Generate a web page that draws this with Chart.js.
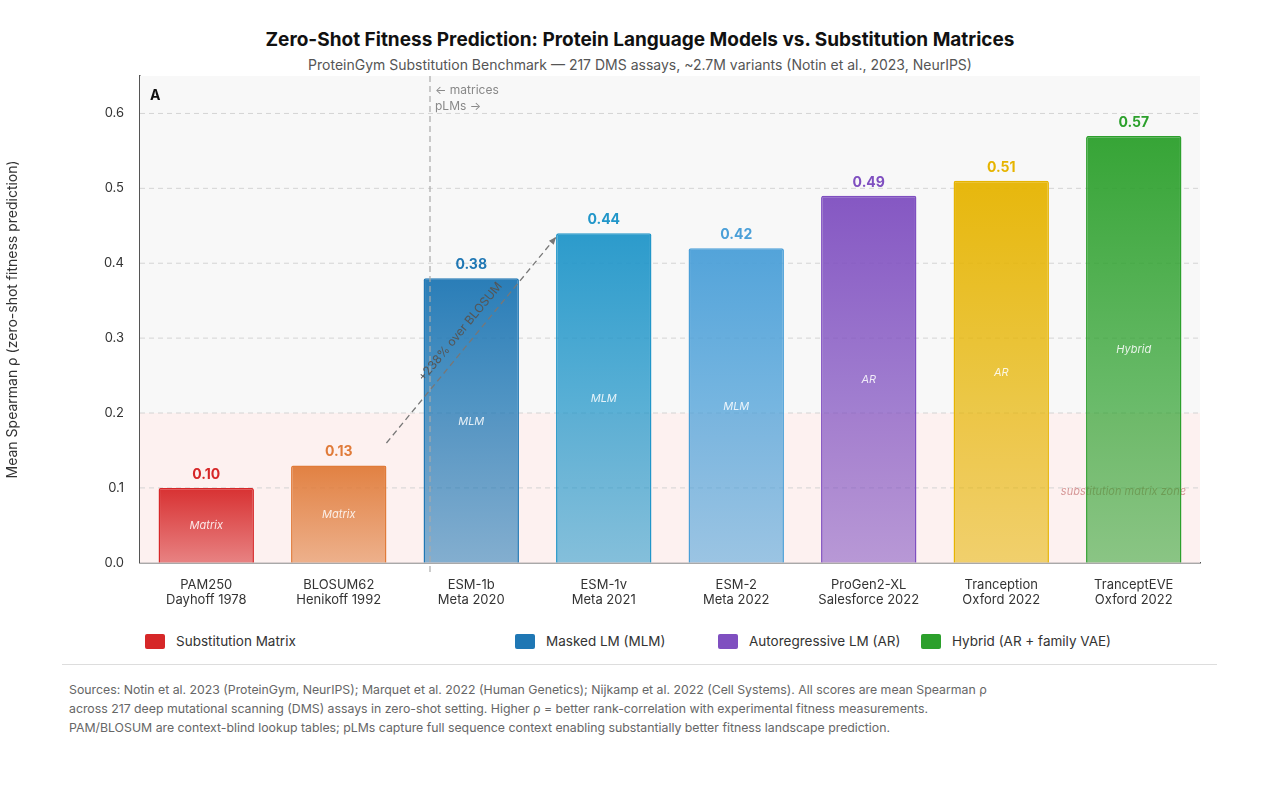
<!DOCTYPE html>
<html><head><meta charset="utf-8">
<script src="https://cdn.jsdelivr.net/npm/chart.js@4.4.1/dist/chart.umd.min.js"></script>
<style>
body{margin:0;background:#fff;font-family:Inter,"Noto Sans",sans-serif;width:1280px;height:811px;overflow:hidden;position:relative}
h1{position:absolute;top:28px;left:0;width:1280px;text-align:center;margin:0;font-size:19px;font-weight:700;color:#111}
.sub{position:absolute;top:56px;left:0;width:1280px;text-align:center;font-size:14px;color:#555}
#wrap{position:absolute;left:0;top:0;width:1280px;height:620px}
.legend{position:absolute;top:633px;font-size:13.5px;color:#333;display:flex;align-items:center}
.legend i{display:inline-block;width:20px;height:15px;border-radius:2px;margin-right:11px}
hr{position:absolute;top:664px;left:62px;width:1155px;border:0;border-top:1px solid #ddd;margin:0}
.foot{position:absolute;top:680px;left:69px;font-size:12.3px;line-height:19px;color:#666}
</style></head><body>
<h1>Zero-Shot Fitness Prediction: Protein Language Models vs. Substitution Matrices</h1>
<div class="sub">ProteinGym Substitution Benchmark — 217 DMS assays, ~2.7M variants (Notin et al., 2023, NeurIPS)</div>
<div id="wrap"><canvas id="c"></canvas></div>
<div class="legend" style="left:145px"><i style="background:#d62728"></i>Substitution Matrix</div>
<div class="legend" style="left:515px"><i style="background:#1f77b4"></i>Masked LM (MLM)</div>
<div class="legend" style="left:718px"><i style="background:#7f4fc0"></i>Autoregressive LM (AR)</div>
<div class="legend" style="left:921px"><i style="background:#2ca02c"></i>Hybrid (AR + family VAE)</div>
<hr>
<div class="foot">Sources: Notin et al. 2023 (ProteinGym, NeurIPS); Marquet et al. 2022 (Human Genetics); Nijkamp et al. 2022 (Cell Systems). All scores are mean Spearman ρ<br>across 217 deep mutational scanning (DMS) assays in zero-shot setting. Higher ρ = better rank-correlation with experimental fitness measurements.<br>PAM/BLOSUM are context-blind lookup tables; pLMs capture full sequence context enabling substantially better fitness landscape prediction.</div>
<script>
const models = ['PAM250','BLOSUM62','ESM-1b','ESM-1v','ESM-2','ProGen2-XL','Tranception','TranceptEVE'];
const sources = ['Dayhoff 1978','Henikoff 1992','Meta 2020','Meta 2021','Meta 2022','Salesforce 2022','Oxford 2022','Oxford 2022'];
const spearman = [0.10,0.13,0.38,0.44,0.42,0.49,0.51,0.57];
const kinds = ['Matrix','Matrix','MLM','MLM','MLM','AR','AR','Hybrid'];
const colors = ['#d62728','#e07b39','#1f77b4','#2196c9','#4a9fd8','#7f4fc0','#e6b400','#2ca02c'];
const yTicks = [0,0.1,0.2,0.3,0.4,0.5,0.6];

function hexA(h,a){const n=parseInt(h.slice(1),16);return `rgba(${n>>16},${(n>>8)&255},${n&255},${a})`;}

const decor = {
  id:'decor',
  beforeDatasetsDraw(ch){
    const {ctx,chartArea:a,scales:{x,y}} = ch;
    ctx.save();
    const z = y.getPixelForValue(0.2);
    ctx.fillStyle='#f8f8f8';ctx.fillRect(a.left,a.top,a.right-a.left,z-a.top);
    ctx.fillStyle='#fdf1f0';ctx.fillRect(a.left,z,a.right-a.left,a.bottom-z);
    ctx.strokeStyle='#d4d4d4';ctx.setLineDash([5,4]);ctx.lineWidth=1;
    yTicks.slice(1).forEach(t=>{const p=y.getPixelForValue(t);ctx.beginPath();ctx.moveTo(a.left,p);ctx.lineTo(a.right,p);ctx.stroke();});
    ctx.font='italic 11px Inter';ctx.fillStyle='rgba(200,120,120,0.75)';ctx.textAlign='right';
    ctx.fillText('substitution matrix zone',a.right-14,y.getPixelForValue(0.09));
    ctx.restore();
  },
  afterDatasetsDraw(ch){
    const {ctx,chartArea:a,scales:{x,y}} = ch;
    const meta = ch.getDatasetMeta(0);
    ctx.save();
    meta.data.forEach((b,i)=>{
      ctx.fillStyle=colors[i];ctx.font='bold 14px Inter';ctx.textAlign='center';
      ctx.fillText(spearman[i].toFixed(2),b.x,b.y-9);
      ctx.fillStyle='rgba(255,255,255,0.85)';ctx.font='italic 11px Inter';
      ctx.fillText(kinds[i],b.x,y.getPixelForValue(spearman[i]/2)+4);
    });
    // divider
    const dx = (x.getPixelForValue(1)+x.getPixelForValue(2))/2+25;
    ctx.strokeStyle='#aaa';ctx.setLineDash([6,4]);ctx.lineWidth=1.2;
    ctx.beginPath();ctx.moveTo(dx,a.top);ctx.lineTo(dx,a.bottom+12);ctx.stroke();
    ctx.setLineDash([]);ctx.fillStyle='#888';ctx.font='12px Inter';ctx.textAlign='left';
    ctx.fillText('← matrices',dx+5,a.top+18);ctx.fillText('pLMs →',dx+5,a.top+34);
    // arrow
    const w = meta.data[0].width/2;
    const x1=x.getPixelForValue(1)+w, y1=y.getPixelForValue(0.16);
    const x2=x.getPixelForValue(3)-w, y2=y.getPixelForValue(0.435);
    ctx.strokeStyle='#777';ctx.setLineDash([6,4]);ctx.lineWidth=1.3;
    ctx.beginPath();ctx.moveTo(x1,y1);ctx.lineTo(x2,y2);ctx.stroke();
    ctx.setLineDash([]);const ang=Math.atan2(y2-y1,x2-x1);
    ctx.fillStyle='#777';ctx.beginPath();ctx.moveTo(x2,y2);
    ctx.lineTo(x2-8*Math.cos(ang-0.4),y2-8*Math.sin(ang-0.4));
    ctx.lineTo(x2-8*Math.cos(ang+0.4),y2-8*Math.sin(ang+0.4));ctx.fill();
    ctx.translate((x1+x2)/2-8,(y1+y2)/2-6);ctx.rotate(ang);
    ctx.fillStyle='#555';ctx.font='12px Inter';ctx.textAlign='center';
    ctx.fillText('+238% over BLOSUM',0,0);
    ctx.restore();
    ctx.save();ctx.fillStyle='#111';ctx.font='bold 14px Inter';ctx.fillText('A',a.left+10,a.top+24);ctx.restore();
  }
};

new Chart(document.getElementById('c'),{
  type:'bar',
  data:{labels:models.map((m,i)=>[m,sources[i]]),datasets:[{
    data:spearman,
    backgroundColor:c=>{
      const ch=c.chart,a=ch.chartArea;if(!a)return colors[c.dataIndex];
      const y=ch.scales.y,col=colors[c.dataIndex];
      const g=ch.ctx.createLinearGradient(0,y.getPixelForValue(spearman[c.dataIndex]),0,a.bottom);
      g.addColorStop(0,hexA(col,0.95));g.addColorStop(1,hexA(col,0.55));return g;
    },
    borderColor:colors,borderWidth:{top:1.5,left:1.5,right:1.5,bottom:0},borderRadius:2,borderSkipped:'bottom',
    barPercentage:0.72,categoryPercentage:1
  }]},
  options:{
    responsive:true,maintainAspectRatio:false,animation:false,
    layout:{padding:{top:76,right:80,bottom:6,left:0}},
    plugins:{legend:{display:false},tooltip:{enabled:false}},
    scales:{
      x:{grid:{display:false},border:{color:'#555',width:1.5},
         ticks:{color:ctx=>'#333',font:{size:13,family:'Inter'},padding:6}},
      y:{min:0,max:0.65,afterFit(s){s.width=140;},
         afterBuildTicks(s){s.ticks=yTicks.map(v=>({value:v}));},
         grid:{display:false},border:{color:'#555',width:1.5},
         ticks:{color:'#333',font:{size:13,family:'Inter'},callback:v=>v.toFixed(1),padding:8},
         title:{display:true,text:'Mean Spearman ρ (zero-shot fitness prediction)',color:'#333',font:{size:14,family:'Inter'},padding:{bottom:40}}}
    }
  },
  plugins:[decor,{id:'sub',afterDraw(ch){}}]
});
</script>
</body></html>
